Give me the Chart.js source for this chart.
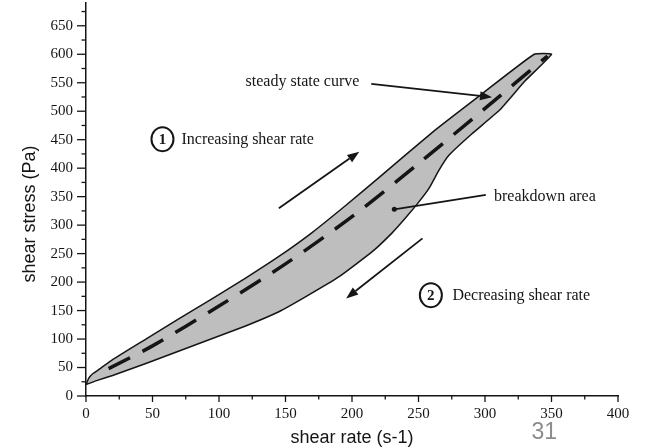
<!DOCTYPE html>
<html>
<head>
<meta charset="utf-8">
<script src="https://cdn.jsdelivr.net/npm/chart.js@4.4.0/dist/chart.umd.min.js"></script>
<style>
  html, body { margin: 0; padding: 0; background: #fff; }
  #wrap { width: 646px; height: 447px; position: relative; }
</style>
</head>
<body>
<div id="wrap"><canvas id="chart"></canvas></div>
<script>
// values: shear rate (s-1) -> shear stress (Pa)
const upRate     = [0, 2, 5, 10, 20, 45, 70, 95, 120, 145, 170, 195, 220, 262, 298, 337];
const upStress   = [20, 31, 39, 47, 64, 100, 136, 171, 207, 245, 287, 334, 383, 466, 531, 600];
const downRate   = [350, 330, 311, 290, 273, 265, 258, 250, 240, 230, 215, 190, 165, 145, 120, 95, 70, 45, 20, 8, 0];
const downStress = [600, 553, 502, 460, 423, 395, 365, 340, 312, 286, 253, 209, 174, 148, 123, 101, 79, 57, 36, 27, 20];
const steadyRate   = [17, 50, 100, 150, 200, 250, 300, 347];
const steadyStress = [48, 88, 158, 232, 315, 408, 505, 597];

const xTickValues = [0, 50, 100, 150, 200, 250, 300, 350, 400];
const yTickValues = [0, 50, 100, 150, 200, 250, 300, 350, 400, 450, 500, 550, 600, 650];

// annotations, placed in data units
const notes = [
  { text: 'steady state curve', x: 120, y: 544 },
  { text: 'Increasing shear rate', x: 71.8, y: 442.6 },
  { text: 'breakdown area', x: 306.8, y: 342.4 },
  { text: 'Decreasing shear rate', x: 275.5, y: 168.3 }
];
const arrows = [
  { from: [214.5, 548], to: [305.3, 524.7] },
  { from: [145, 329.5], to: [205.5, 429] },
  { from: [253, 276.8], to: [195.6, 171.3] }
];
const badges = [
  { text: '1', x: 57.5, y: 450.9 },
  { text: '2', x: 259.3, y: 177.1 }
];
const pointer = { from: [300.6, 353], to: [231.8, 327.8] };

const toPts = (xs, ys) => xs.map((v, i) => ({ x: v, y: ys[i] }));
// closed loop: up the increasing curve, back down the decreasing one
const loop = toPts(upRate, upStress).concat(toPts(downRate, downStress));

const INK = '#151515';
const SERIF = 'Liberation Serif';

function arrowLine(ctx, x1, y1, x2, y2) {
  const ang = Math.atan2(y2 - y1, x2 - x1);
  const len = 12, half = 4.5;
  const bx = x2 - len * Math.cos(ang), by = y2 - len * Math.sin(ang);
  ctx.beginPath();
  ctx.moveTo(x1, y1);
  ctx.lineTo(bx, by);
  ctx.stroke();
  ctx.beginPath();
  ctx.moveTo(x2, y2);
  ctx.lineTo(bx + half * Math.sin(ang), by - half * Math.cos(ang));
  ctx.lineTo(bx - half * Math.sin(ang), by + half * Math.cos(ang));
  ctx.closePath();
  ctx.fill();
}

const decor = {
  id: 'decor',
  afterDraw(chart) {
    const { ctx, chartArea: a, scales: { x, y } } = chart;
    const px = v => x.getPixelForValue(v);
    const py = v => y.getPixelForValue(v);
    ctx.save();
    ctx.strokeStyle = INK;
    ctx.fillStyle = INK;

    // major + minor tick marks, outward
    ctx.lineWidth = 1.3;
    const yStep = yTickValues[1] - yTickValues[0];
    for (let v = 0; v <= y.max; v += yStep / 2) {
      const major = v % yStep === 0;
      ctx.beginPath();
      ctx.moveTo(a.left - (major ? 9 : 4.5), py(v));
      ctx.lineTo(a.left, py(v));
      ctx.stroke();
    }
    const xStep = xTickValues[1] - xTickValues[0];
    for (let v = 0; v <= x.max; v += xStep / 2) {
      const major = v % xStep === 0;
      ctx.beginPath();
      ctx.moveTo(px(v), a.bottom);
      ctx.lineTo(px(v), a.bottom + (major ? 6 : 3.5));
      ctx.stroke();
    }

    // arrows
    ctx.lineWidth = 1.8;
    arrows.forEach(ar => arrowLine(ctx, px(ar.from[0]), py(ar.from[1]), px(ar.to[0]), py(ar.to[1])));

    // pointer to breakdown area
    ctx.beginPath();
    ctx.moveTo(px(pointer.from[0]), py(pointer.from[1]));
    ctx.lineTo(px(pointer.to[0]), py(pointer.to[1]));
    ctx.stroke();
    ctx.beginPath();
    ctx.arc(px(pointer.to[0]), py(pointer.to[1]), 2.5, 0, Math.PI * 2);
    ctx.fill();

    // text notes
    ctx.font = `16px "${SERIF}"`;
    ctx.textAlign = 'left';
    ctx.textBaseline = 'alphabetic';
    notes.forEach(n => ctx.fillText(n.text, px(n.x), py(n.y)));

    // circled step numbers
    ctx.lineWidth = 2;
    badges.forEach(b => {
      ctx.beginPath();
      ctx.ellipse(px(b.x), py(b.y), 11, 12, 0, 0, Math.PI * 2);
      ctx.stroke();
      ctx.font = `bold 15px "${SERIF}"`;
      ctx.textAlign = 'center';
      ctx.textBaseline = 'middle';
      ctx.fillText(b.text, px(b.x), py(b.y) + 1);
    });

    // y axis title
    ctx.save();
    ctx.translate(34.7, 214);
    ctx.rotate(-Math.PI / 2);
    ctx.font = '18px "Liberation Sans"';
    ctx.textAlign = 'center';
    ctx.textBaseline = 'alphabetic';
    ctx.fillText('shear stress (Pa)', 0, 0);
    ctx.restore();

    // slide page number
    ctx.fillStyle = '#8c8c8c';
    ctx.font = '23px "Liberation Sans"';
    ctx.textAlign = 'left';
    ctx.textBaseline = 'alphabetic';
    ctx.fillText('31', 531.5, 438.5);
    ctx.restore();
  }
};

new Chart(document.getElementById('chart'), {
  type: 'line',
  data: {
    datasets: [
      {
        label: 'breakdown area',
        data: loop,
        order: 2,
        fill: 'shape',
        backgroundColor: '#bebebe',
        borderColor: INK,
        borderWidth: 1.5,
        pointRadius: 0,
        tension: 0.12
      },
      {
        label: 'steady state curve',
        data: toPts(steadyRate, steadyStress),
        order: 1,
        fill: false,
        borderColor: INK,
        borderWidth: 3.5,
        borderDash: [24, 14],
        pointRadius: 0,
        tension: 0.3
      }
    ]
  },
  options: {
    responsive: true,
    maintainAspectRatio: false,
    animation: false,
    layout: { padding: { top: 3, right: 28, left: 0, bottom: 0 } },
    plugins: { legend: { display: false }, tooltip: { enabled: false } },
    scales: {
      x: {
        type: 'linear',
        min: 0,
        max: 400,
        afterBuildTicks: s => { s.ticks = xTickValues.map(v => ({ value: v })); },
        afterFit: s => { s.height = 51; s.paddingLeft = 0; s.paddingRight = 0; },
        grid: { display: false, drawTicks: false },
        border: { display: true, color: INK, width: 1.5 },
        ticks: { padding: 9, maxRotation: 0, color: INK, font: { family: SERIF, size: 15 } },
        title: {
          display: true,
          text: 'shear rate (s-1)',
          color: INK,
          font: { family: 'Liberation Sans', size: 18 },
          padding: { top: 0, bottom: -2 }
        }
      },
      y: {
        type: 'linear',
        min: 0,
        max: 690,
        afterBuildTicks: s => { s.ticks = yTickValues.map(v => ({ value: v })); },
        afterFit: s => { s.width = 86; s.paddingTop = 0; s.paddingBottom = 0; },
        grid: { display: false, drawTicks: false },
        border: { display: true, color: INK, width: 1.5 },
        ticks: { padding: 13, color: INK, font: { family: SERIF, size: 15 } }
      }
    }
  },
  plugins: [decor]
});
</script>
</body>
</html>
